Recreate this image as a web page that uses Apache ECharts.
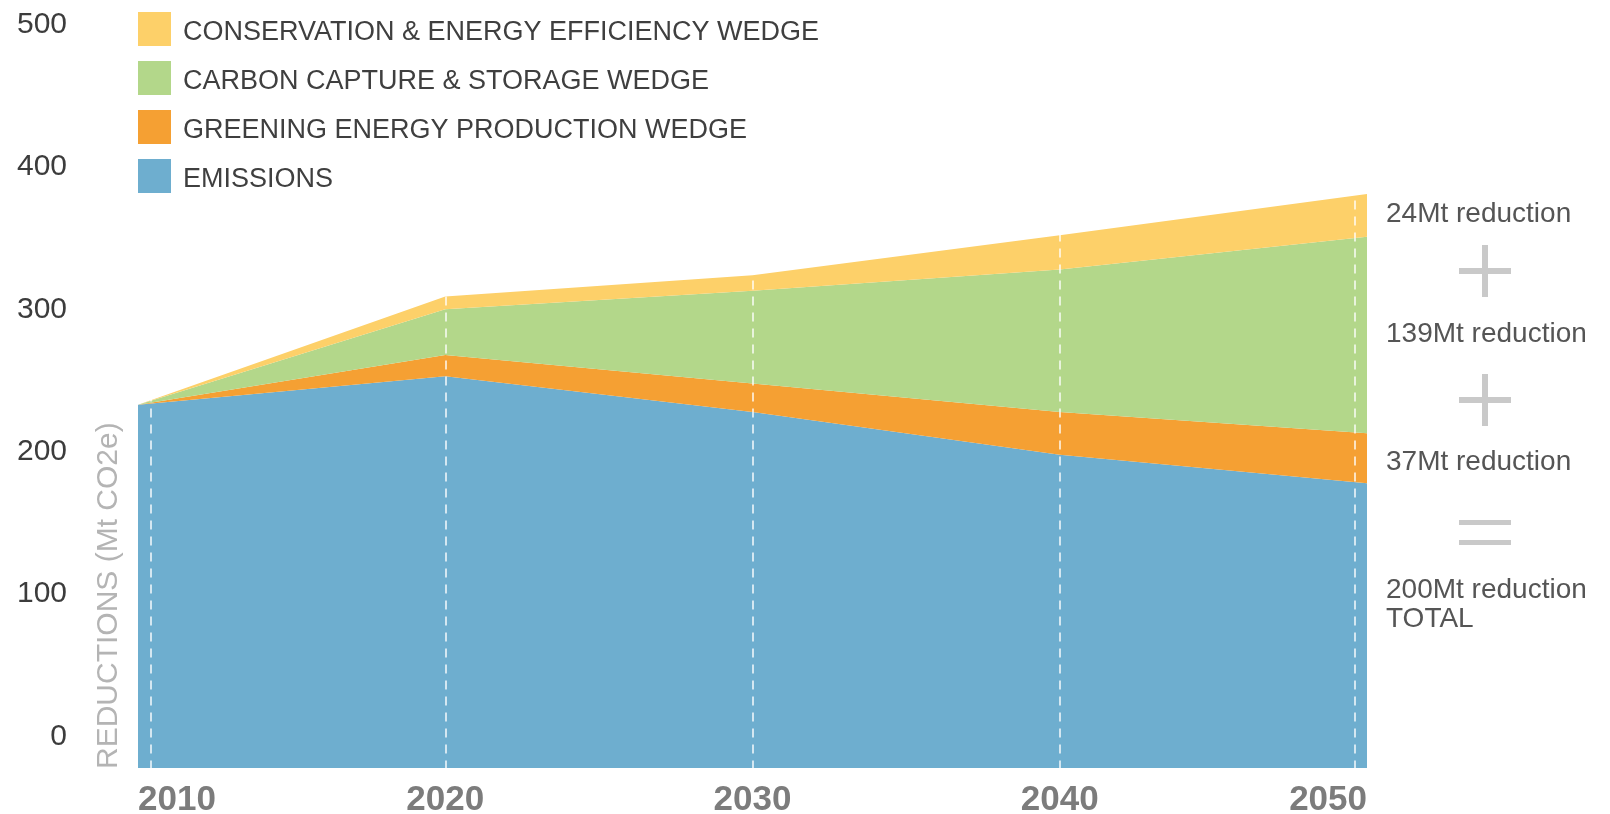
<!DOCTYPE html>
<html><head><meta charset="utf-8">
<script src="https://cdn.jsdelivr.net/npm/echarts@6/dist/echarts.min.js"></script>
<style>html,body{margin:0;padding:0;background:#fff;}#c{width:1610px;height:814px;}</style>
</head><body><div id="c"></div>
<script>
// ---- data ----
const years = ['2010', '2020', '2030', '2040', '2050'];
const emissions = [233, 253, 228, 198, 178];
const greening = [0, 15, 20, 30, 35];
const ccs = [0, 32, 65, 100, 138];
const conservation = [0, 9, 11, 24, 30];
const yTicks = [0, 100, 200, 300, 400, 500];
const legendNames = ['CONSERVATION & ENERGY EFFICIENCY WEDGE', 'CARBON CAPTURE & STORAGE WEDGE', 'GREENING ENERGY PRODUCTION WEDGE', 'EMISSIONS'];
const reductionNotes = ['24Mt reduction', '139Mt reduction', '37Mt reduction', '200Mt reduction\nTOTAL'];
const yAxisTitle = 'REDUCTIONS (Mt CO2e)';

const FONT = '"Liberation Sans", Arial, Helvetica, sans-serif';
const colors = { emissions: '#6eaecf', greening: '#f5a033', ccs: '#b3d78a', conservation: '#fdd069' };

function area(name, vals, color, first) {
  return {
    type: 'line', name: name, stack: 'total',
    xAxisIndex: 0, yAxisIndex: 0,
    data: vals,
    symbol: 'none', showSymbol: false,
    lineStyle: { width: 0 },
    color: color,
    itemStyle: { color: color },
    areaStyle: { color: color, opacity: 1, origin: first ? 'start' : 'auto' },
    emphasis: { disabled: true }, silent: true, z: 2
  };
}

const chart = echarts.init(document.getElementById('c'), null, { renderer: 'canvas' });
chart.setOption({
  animation: false,
  backgroundColor: '#ffffff',
  grid: { left: 138, right: 243, top: 24.5, bottom: 46, containLabel: false, outerBoundsMode: 'none' },
  legend: {
    orient: 'vertical', left: 138, top: 12, padding: 0, z: 10,
    icon: 'rect', itemWidth: 33, itemHeight: 34, itemGap: 15,
    selectedMode: false,
    data: legendNames,
    itemStyle: { borderWidth: 0 },
    formatter: name => '{t|' + name + '}',
    textStyle: {
      fontFamily: FONT, fontSize: 27, color: '#3f3f3f',
      rich: { t: { fontFamily: FONT, fontSize: 27, color: '#3f3f3f', padding: [7, 0, 0, 7] } }
    }
  },
  xAxis: [{
    type: 'category', data: years, boundaryGap: false,
    axisLine: { show: false },
    axisTick: { show: false },
    splitLine: { show: false },
    axisLabel: {
      margin: 15, interval: 0,
      alignMinLabel: 'left', alignMaxLabel: 'right',
      fontFamily: FONT, fontSize: 35, fontWeight: 'bold', color: '#7c7c7c'
    }
  }, {
    // helper axis only for the dashed year guide lines drawn over the areas
    type: 'value', min: 2010, max: 2050, position: 'bottom', z: 3,
    axisLine: { show: false },
    axisTick: { show: false, customValues: [2010.4, 2020, 2030, 2040, 2049.6] },
    axisLabel: { show: false },
    splitLine: { show: true, lineStyle: { color: 'rgba(255,255,255,0.7)', width: 2, type: [9, 7] } }
  }],
  yAxis: {
    type: 'value', min: -22, max: 500,
    axisLine: { show: false }, axisTick: { show: false },
    splitLine: { show: false },
    axisLabel: {
      customValues: yTicks, margin: 71,
      fontFamily: FONT, fontSize: 30, color: '#3c3c3c'
    }
  },
  series: [
    area(legendNames[3], emissions, colors.emissions, true),
    area(legendNames[2], greening, colors.greening, false),
    area(legendNames[1], ccs, colors.ccs, false),
    area(legendNames[0], conservation, colors.conservation, false)
  ],
  graphic: [
    { type: 'text', x: 124, y: 769, rotation: Math.PI / 2, silent: true,
      style: { text: yAxisTitle, fill: '#b4b4b4', fontFamily: FONT, fontSize: 30, align: 'left', verticalAlign: 'bottom' } },
    { type: 'text', x: 1386, y: 214, silent: true,
      style: { text: reductionNotes[0], fill: '#555555', fontFamily: FONT, fontSize: 28, align: 'left', verticalAlign: 'middle' } },
    { type: 'text', x: 1386, y: 334, silent: true,
      style: { text: reductionNotes[1], fill: '#555555', fontFamily: FONT, fontSize: 28, align: 'left', verticalAlign: 'middle' } },
    { type: 'text', x: 1386, y: 462, silent: true,
      style: { text: reductionNotes[2], fill: '#555555', fontFamily: FONT, fontSize: 28, align: 'left', verticalAlign: 'middle' } },
    { type: 'text', x: 1386, y: 576, silent: true,
      style: { text: reductionNotes[3], fill: '#555555', fontFamily: FONT, fontSize: 28, lineHeight: 29, align: 'left', verticalAlign: 'top' } },
    { type: 'rect', silent: true, shape: { x: 1459, y: 268, width: 52, height: 6 }, style: { fill: '#c9c9c9' } },
    { type: 'rect', silent: true, shape: { x: 1482, y: 245, width: 6, height: 52 }, style: { fill: '#c9c9c9' } },
    { type: 'rect', silent: true, shape: { x: 1459, y: 397, width: 52, height: 6 }, style: { fill: '#c9c9c9' } },
    { type: 'rect', silent: true, shape: { x: 1482, y: 374, width: 6, height: 52 }, style: { fill: '#c9c9c9' } },
    { type: 'rect', silent: true, shape: { x: 1459, y: 520, width: 52, height: 5 }, style: { fill: '#c9c9c9' } },
    { type: 'rect', silent: true, shape: { x: 1459, y: 540, width: 52, height: 5 }, style: { fill: '#c9c9c9' } }
  ]
});
</script>
</body></html>
